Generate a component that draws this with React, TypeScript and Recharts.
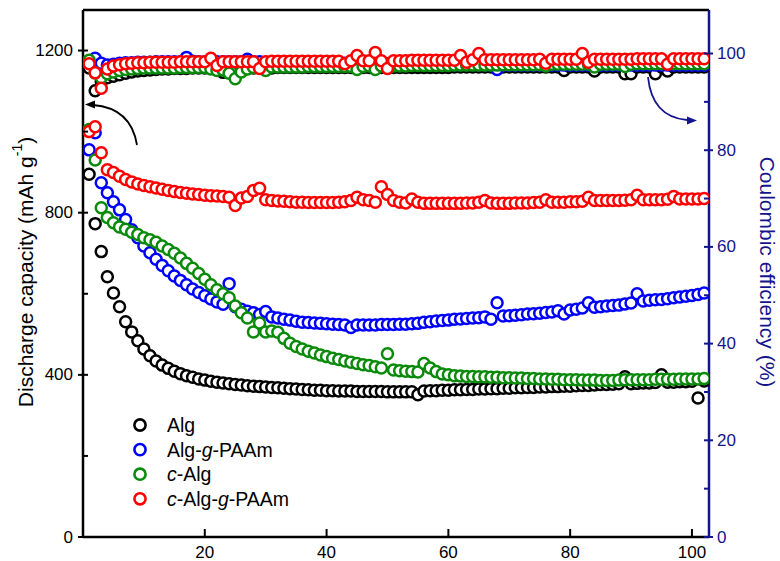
import React from 'react';
import { ScatterChart, Scatter, XAxis, YAxis, ReferenceLine } from 'recharts';

const cycles: number[] = Array.from({ length: 102 }, (_, i) => i + 1);

const algCapacity = [
  895, 773, 704, 642, 602, 568, 531, 506, 484, 464,
  447, 434, 424, 416, 409, 403, 398, 394, 390, 387,
  384, 382, 380, 378, 376, 375, 373, 372, 371, 370,
  369, 368, 367, 366, 365, 364, 363, 362, 362, 361,
  361, 360, 360, 360, 359, 359, 359, 359, 359, 358,
  358, 358, 358, 358, 351, 360, 361, 361, 362, 362,
  363, 363, 364, 364, 365, 365, 366, 366, 367, 367,
  368, 368, 369, 369, 370, 370, 371, 371, 372, 372,
  373, 374, 374, 375, 376, 376, 377, 378, 395, 378,
  379, 380, 380, 381, 400, 382, 382, 383, 383, 384,
  343, 385,
];

const algPaamCapacity = [
  955, 997, 874, 849, 827, 807, 783, 758, 738, 718,
  701, 685, 670, 657, 644, 633, 622, 612, 603, 595,
  587, 580, 574, 625, 568, 562, 557, 553, 549, 556,
  543, 540, 537, 535, 532, 530, 529, 528, 527, 526,
  525, 524, 523, 517, 523, 523, 523, 523, 524, 524,
  524, 525, 525, 526, 527, 530, 531, 533, 534, 535,
  537, 538, 539, 540, 541, 543, 537, 578, 545, 546,
  547, 548, 550, 551, 552, 554, 555, 558, 550, 560,
  562, 565, 578, 567, 568, 570, 571, 572, 575, 577,
  600, 582, 584, 585, 586, 588, 590, 592, 594, 596,
  598, 602,
];

const cAlgCapacity = [
  1005, 930, 812, 788, 775, 765, 759, 752, 746, 738,
  733, 727, 718, 709, 700, 688, 675, 663, 650, 636,
  622, 610, 600, 590, 570, 553, 540, 506, 528, 506,
  508, 505, 490, 478, 470, 464, 458, 454, 449, 445,
  441, 438, 434, 431, 428, 425, 423, 420, 417, 452,
  412, 410, 409, 408, 407, 428, 417, 408, 402, 400,
  398, 397, 396, 396, 395, 395, 394, 394, 393, 393,
  392, 392, 391, 391, 390, 390, 389, 389, 388, 388,
  388, 387, 387, 387, 386, 386, 386, 387, 388, 388,
  388, 388, 388, 389, 389, 389, 389, 390, 390, 390,
  390, 391,
];

const cAlgPaamCapacity = [
  1000, 1012, 948, 906, 899, 890, 882, 876, 871, 867,
  864, 861, 858, 855, 852, 850, 848, 846, 845, 843,
  842, 841, 840, 838, 818, 836, 840, 855, 860, 832,
  830, 829, 828, 827, 826, 826, 825, 825, 825, 825,
  825, 826, 827, 830, 838, 832, 830, 826, 864, 845,
  830, 826, 824, 834, 826, 823, 823, 823, 823, 823,
  823, 823, 824, 824, 826, 830, 824, 823, 823, 823,
  824, 824, 824, 825, 826, 832, 826, 826, 826, 827,
  827, 828, 838, 830, 830, 830, 830, 830, 831, 832,
  843, 832, 832, 832, 832, 833, 840, 834, 834, 834,
  834, 835,
];

const algCE = [
  97.0, 92.3, 94.2, 95.0, 95.3, 95.6, 95.9, 96.2, 96.4, 96.5,
  96.6, 96.7, 96.8, 96.8, 96.9, 96.9, 96.9, 97.0, 97.0, 97.0,
  97.0, 97.0, 96.1, 97.0, 97.0, 97.0, 97.0, 97.0, 97.0, 97.0,
  97.0, 97.1, 97.1, 97.1, 97.1, 97.1, 97.1, 97.1, 97.1, 97.1,
  97.1, 97.1, 97.1, 97.1, 97.1, 97.1, 97.1, 97.1, 97.1, 97.1,
  97.1, 97.1, 97.1, 97.1, 97.1, 97.1, 97.1, 97.1, 97.1, 97.1,
  97.2, 97.2, 97.2, 97.2, 97.2, 97.2, 97.2, 97.2, 97.2, 97.2,
  97.2, 97.2, 97.2, 97.2, 97.2, 97.2, 97.2, 97.2, 96.5, 97.2,
  97.2, 97.2, 97.2, 96.4, 97.2, 97.2, 97.2, 97.2, 95.8, 95.8,
  97.2, 97.2, 97.2, 95.8, 97.2, 96.4, 97.2, 97.2, 97.2, 97.2,
  97.2, 97.2,
];

const algPaamCE = [
  98.2, 99.0, 98.0, 97.6, 97.8, 98.0, 98.1, 98.1, 98.2, 98.2,
  98.2, 98.3, 98.3, 98.3, 98.3, 98.3, 99.2, 98.4, 98.3, 98.3,
  98.3, 98.3, 98.3, 98.3, 98.3, 98.3, 98.8, 98.3, 98.3, 98.2,
  98.2, 98.2, 98.2, 98.2, 98.1, 98.1, 98.1, 98.1, 98.0, 98.0,
  98.0, 98.0, 98.0, 98.0, 98.8, 97.9, 97.9, 97.9, 97.9, 97.9,
  97.8, 97.8, 97.8, 97.8, 97.8, 97.8, 97.8, 97.7, 97.7, 97.7,
  97.7, 97.7, 97.7, 97.7, 97.7, 97.7, 97.7, 96.7, 97.6, 97.6,
  97.6, 97.6, 97.6, 97.6, 97.6, 97.6, 97.6, 97.6, 97.6, 97.6,
  97.6, 97.6, 97.6, 97.6, 97.6, 97.6, 97.6, 97.6, 97.6, 97.6,
  97.6, 97.6, 97.6, 97.6, 97.6, 97.6, 97.6, 97.6, 97.6, 97.6,
  97.6, 97.6,
];

const cAlgCE = [
  98.6, 96.0, 95.0, 95.8, 96.2, 96.5, 96.7, 96.8, 96.9, 97.0,
  97.0, 97.0, 97.0, 97.0, 97.0, 97.1, 97.1, 97.1, 97.1, 97.1,
  96.8, 96.5, 96.6, 95.9, 94.8, 96.2, 96.8, 97.1, 97.1, 96.5,
  97.2, 97.2, 97.2, 97.2, 97.2, 97.2, 97.3, 97.3, 97.3, 97.3,
  97.3, 97.3, 97.3, 97.3, 96.7, 97.3, 97.4, 96.7, 97.4, 97.4,
  97.4, 97.4, 97.4, 97.5, 97.5, 97.5, 97.5, 97.5, 97.5, 97.5,
  97.6, 97.6, 97.6, 97.6, 97.6, 97.6, 97.6, 97.6, 97.7, 97.7,
  97.7, 97.7, 97.7, 97.7, 97.7, 97.4, 97.8, 97.8, 97.8, 97.8,
  97.8, 97.8, 97.8, 97.2, 97.8, 97.8, 97.8, 97.8, 97.3, 97.8,
  97.9, 97.9, 97.9, 97.9, 97.9, 97.9, 97.9, 97.9, 97.9, 97.9,
  97.9, 97.9,
];

const cAlgPaamCE = [
  97.9, 96.0, 92.8, 96.8, 97.4, 97.7, 97.9, 98.0, 98.1, 98.1,
  98.2, 98.2, 98.2, 98.2, 98.2, 98.3, 98.3, 98.3, 98.3, 98.3,
  99.0, 97.5, 98.3, 98.3, 98.3, 98.3, 98.3, 98.3, 96.9, 98.3,
  98.4, 98.4, 98.4, 98.4, 98.4, 98.4, 98.4, 98.4, 98.4, 98.4,
  98.4, 98.4, 97.9, 98.5, 99.6, 98.5, 98.5, 100.2, 98.5, 96.9,
  98.5, 98.5, 98.5, 98.6, 98.6, 98.6, 98.6, 98.6, 98.6, 98.6,
  98.6, 99.6, 98.2, 98.7, 100.0, 98.7, 98.7, 98.7, 98.7, 98.7,
  98.7, 98.7, 98.7, 98.7, 98.8, 98.0, 98.8, 98.8, 98.8, 98.8,
  98.8, 100.0, 98.2, 98.8, 98.8, 98.8, 98.8, 98.8, 98.8, 98.8,
  98.9, 98.9, 98.9, 98.9, 98.9, 97.8, 98.9, 98.9, 98.9, 98.9,
  98.9, 98.9,
];

const xTicks = [20, 40, 60, 80, 100];
const leftTicks = [0, 200, 400, 600, 800, 1000, 1200];
const rightTicks = [0, 10, 20, 30, 40, 50, 60, 70, 80, 90, 100];

const BLACK = '#000000';
const BLUE = '#0000ff';
const GREEN = '#0a8a0a';
const RED = '#ff0000';
const NAVY = '#14148c';
const FONT = '"Liberation Sans", Arial, sans-serif';

const toPoints = (vals: number[]) => vals.map((v, i) => ({ x: cycles[i], y: v }));

const makeShape = (color: string) => (props: any) => {
  if (props.cx == null || props.cy == null) return <g />;
  return <circle cx={props.cx} cy={props.cy} r={5.5} fill="#ffffff" stroke={color} strokeWidth={2.5} />;
};

const LeftTick = (props: any) => {
  const { x, y, payload } = props;
  const major = payload.value % 400 === 0;
  return (
    <g>
      <line x1={major ? x - 5 : x} x2={x + 5} y1={y} y2={y} stroke={BLACK} strokeWidth={2} />
      {major && (
        <text x={x - 10} y={y} textAnchor="end" dominantBaseline="central" fontSize={17} fontFamily={FONT} fill={BLACK}>
          {payload.value}
        </text>
      )}
    </g>
  );
};

const RightTick = (props: any) => {
  const { x, y, payload } = props;
  const major = payload.value % 20 === 0;
  return (
    <g>
      <line x1={x - 5} x2={major ? x + 4 : x} y1={y} y2={y} stroke={NAVY} strokeWidth={2} />
      {major && (
        <text x={x + 8} y={y} textAnchor="start" dominantBaseline="central" fontSize={17} fontFamily={FONT} fill={NAVY}>
          {payload.value}
        </text>
      )}
    </g>
  );
};

const BottomTick = (props: any) => {
  const { x, y, payload } = props;
  return (
    <g>
      <line x1={x} x2={x} y1={y - 8} y2={y} stroke={BLACK} strokeWidth={2} />
      <text x={x} y={y + 15} textAnchor="middle" dominantBaseline="central" fontSize={17} fontFamily={FONT} fill={BLACK}>
        {payload.value}
      </text>
    </g>
  );
};

const legendItems = [
  { color: BLACK, parts: [{ t: 'Alg', i: false }] },
  { color: BLUE, parts: [{ t: 'Alg-', i: false }, { t: 'g', i: true }, { t: '-PAAm', i: false }] },
  { color: GREEN, parts: [{ t: 'c', i: true }, { t: '-Alg', i: false }] },
  {
    color: RED,
    parts: [
      { t: 'c', i: true },
      { t: '-Alg-', i: false },
      { t: 'g', i: true },
      { t: '-PAAm', i: false },
    ],
  },
];

export default function App() {
  return (
    <div style={{ position: 'absolute', left: 0, top: 0, width: 780, height: 561, background: '#fff' }}>
      <ScatterChart width={780} height={561} margin={{ top: 10, right: 0, bottom: 0, left: 0 }}>
        <XAxis
          type="number"
          dataKey="x"
          domain={[0, 102.8]}
          ticks={xTicks}
          interval={0}
          allowDataOverflow
          height={24}
          tickSize={0}
          tickMargin={0}
          tickLine={false}
          tick={<BottomTick />}
          axisLine={{ stroke: BLACK, strokeWidth: 2.5 }}
        />
        <YAxis
          yAxisId="left"
          type="number"
          dataKey="y"
          orientation="left"
          domain={[0, 1300]}
          ticks={leftTicks}
          interval={0}
          allowDataOverflow
          width={83}
          tickSize={0}
          tickMargin={0}
          tickLine={false}
          tick={<LeftTick />}
          axisLine={{ stroke: BLACK, strokeWidth: 2.5 }}
        />
        <YAxis
          yAxisId="right"
          type="number"
          dataKey="y"
          orientation="right"
          domain={[0, 109]}
          ticks={rightTicks}
          interval={0}
          allowDataOverflow
          width={71}
          tickSize={0}
          tickMargin={0}
          tickLine={false}
          tick={<RightTick />}
          axisLine={{ stroke: NAVY, strokeWidth: 2.5 }}
        />
        <ReferenceLine yAxisId="left" y={1300} stroke={BLACK} strokeWidth={2.5} />
        <Scatter name="Alg" yAxisId="left" data={toPoints(algCapacity)} shape={makeShape(BLACK)} isAnimationActive={false} />
        <Scatter name="Alg-g-PAAm" yAxisId="left" data={toPoints(algPaamCapacity)} shape={makeShape(BLUE)} isAnimationActive={false} />
        <Scatter name="c-Alg" yAxisId="left" data={toPoints(cAlgCapacity)} shape={makeShape(GREEN)} isAnimationActive={false} />
        <Scatter name="c-Alg-g-PAAm" yAxisId="left" data={toPoints(cAlgPaamCapacity)} shape={makeShape(RED)} isAnimationActive={false} />
        <Scatter name="Alg CE" yAxisId="right" data={toPoints(algCE)} shape={makeShape(BLACK)} isAnimationActive={false} />
        <Scatter name="Alg-g-PAAm CE" yAxisId="right" data={toPoints(algPaamCE)} shape={makeShape(BLUE)} isAnimationActive={false} />
        <Scatter name="c-Alg CE" yAxisId="right" data={toPoints(cAlgCE)} shape={makeShape(GREEN)} isAnimationActive={false} />
        <Scatter name="c-Alg-g-PAAm CE" yAxisId="right" data={toPoints(cAlgPaamCE)} shape={makeShape(RED)} isAnimationActive={false} />
      </ScatterChart>
      <svg width={780} height={561} style={{ position: 'absolute', left: 0, top: 0, pointerEvents: 'none' }}>
        <text
          transform="translate(25,272) rotate(-90)"
          textAnchor="middle"
          dominantBaseline="central"
          fontSize={21}
          fontFamily={FONT}
          fill={BLACK}
        >
          Discharge capacity (mAh g
          <tspan dy={-8} fontSize={14}>-1</tspan>
          <tspan dy={8}>)</tspan>
        </text>
        <text
          transform="translate(767,272) rotate(90)"
          textAnchor="middle"
          dominantBaseline="central"
          fontSize={21}
          fontFamily={FONT}
          fill={NAVY}
        >
          Coulombic efficiency (%)
        </text>
        <path d="M137,145 Q131,108 93,105" stroke={BLACK} strokeWidth={1.8} fill="none" />
        <polygon points="85,104.5 95,100.5 95,108.5" fill={BLACK} />
        <path d="M648,77 Q652,117 687,120" stroke={NAVY} strokeWidth={1.8} fill="none" />
        <polygon points="697,120.5 687,116.5 687,124.5" fill={NAVY} />
        {legendItems.map((item, k) => {
          const cy = 425 + k * 24.6;
          return (
            <g key={k}>
              <circle cx={140} cy={cy} r={5.6} fill="#fff" stroke={item.color} strokeWidth={2.6} />
              <text x={167} y={cy} dominantBaseline="central" fontSize={19.5} fontFamily={FONT} fill={BLACK}>
                {item.parts.map((p, j) => (
                  <tspan key={j} fontStyle={p.i ? 'italic' : 'normal'}>
                    {p.t}
                  </tspan>
                ))}
              </text>
            </g>
          );
        })}
      </svg>
    </div>
  );
}
